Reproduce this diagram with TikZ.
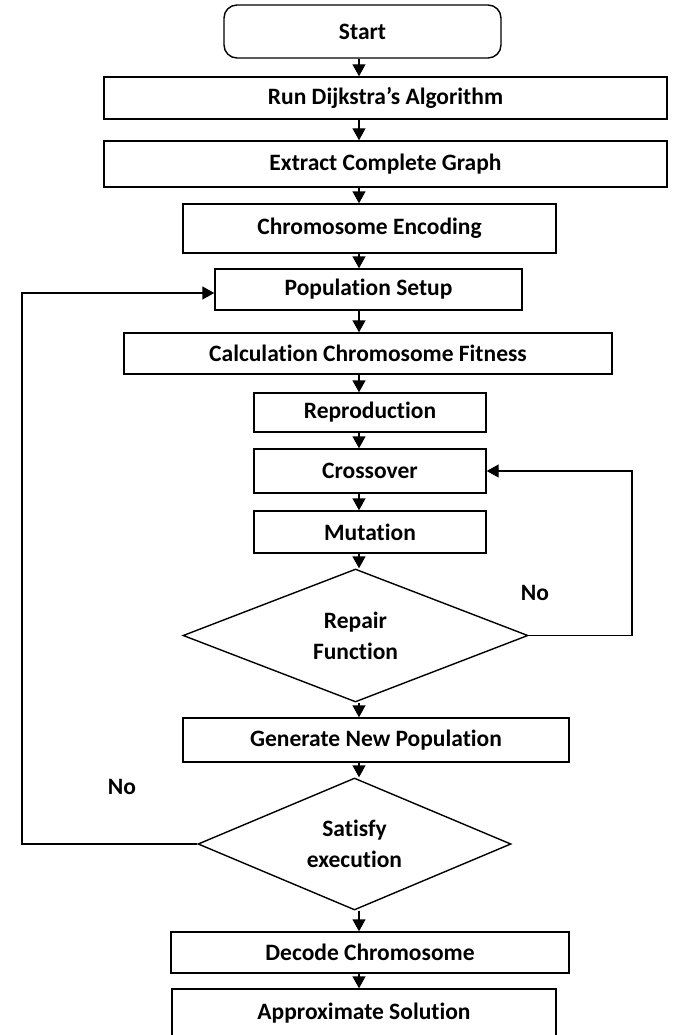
\documentclass[tikz,border=0pt]{standalone}
\usepackage{fontspec}
\setmainfont{Carlito}[Ligatures=NoCommon]
\usetikzlibrary{arrows.meta,shapes.geometric}
\begin{document}
\begin{tikzpicture}[x=1pt,y=-1pt,
  every node/.style={font=\fontsize{23.5}{31}\selectfont\bfseries},
  box/.style={draw=black,line width=1.4pt,inner sep=0pt,align=center},
  rbox/.style={box,rounded corners=13pt},
  dia/.style={draw=black,line width=1.4pt,shape=diamond,aspect=2.6,inner sep=0pt,align=center},
  arr/.style={line width=1.4pt,-{Triangle[length=12pt,width=13pt]}},
  lbl/.style={inner sep=0pt}]
\path[fill=white,use as bounding box] (0,0) rectangle (676,1035);
\begin{scope}
\clip (0,0) rectangle (676,1035);
\node[rbox,minimum width=277pt,minimum height=53pt] (start) at (362.5,31.5) {Start};
\node[box,minimum width=563pt,minimum height=42pt] (run) at (385.5,98) {Run Dijkstra’s Algorithm};
\node[box,minimum width=563pt,minimum height=46pt] (extract) at (385.5,164) {Extract Complete Graph};
\node[box,minimum width=373pt,minimum height=49pt] (chrom) at (369.5,228.5) {Chromosome Encoding};
\node[box,minimum width=307pt,minimum height=41pt] (pop) at (368.5,289.5) {Population Setup};
\node[box,minimum width=488pt,minimum height=41pt] (calc) at (368,353.5) {Calculation Chromosome Fitness};
\node[box,minimum width=232pt,minimum height=39pt] (repro) at (370,412.5) {Reproduction};
\node[box,minimum width=232pt,minimum height=44pt] (cross) at (370,471) {Crossover};
\node[box,minimum width=232pt,minimum height=42pt] (mut) at (370,532) {Mutation};
\node[dia,minimum width=345pt,minimum height=133pt] (repair) at (355.5,635.5) {Repair\\Function};
\node[box,minimum width=386pt,minimum height=44pt] (gen) at (376,740) {Generate New Population};
\node[dia,minimum width=313pt,minimum height=132pt] (satisfy) at (354.5,844) {Satisfy\\execution};
\node[box,minimum width=398pt,minimum height=41pt] (decode) at (370,952.5) {Decode Chromosome};
\node[box,minimum width=384pt,minimum height=48pt] (approx) at (364,1013) {Approximate Solution};
\node[lbl] (no1) at (535,593) {No};
\node[lbl] (no2) at (122,787) {No};
\coordinate (col) at (359,0);
\coordinate (lft) at (22,0);
\coordinate (rgt) at (632,0);
\coordinate (popin) at ([yshift=-3.5pt]pop.west);
\foreach \a/\b in {start/run,run/extract,extract/chrom,chrom/pop,pop/calc,calc/repro,repro/cross,cross/mut,mut/repair,repair/gen,gen/satisfy,satisfy/decode,decode/approx}
  \draw[arr] (col |- \a.south) -- (col |- \b.north);
\draw[arr] (repair.east) -- (repair.east -| rgt) -- (rgt |- cross.east) -- (cross.east);
\draw[arr] (satisfy.west) -- (satisfy.west -| lft) -- (lft |- popin) -- (popin);
\end{scope}
\end{tikzpicture}
\end{document}
